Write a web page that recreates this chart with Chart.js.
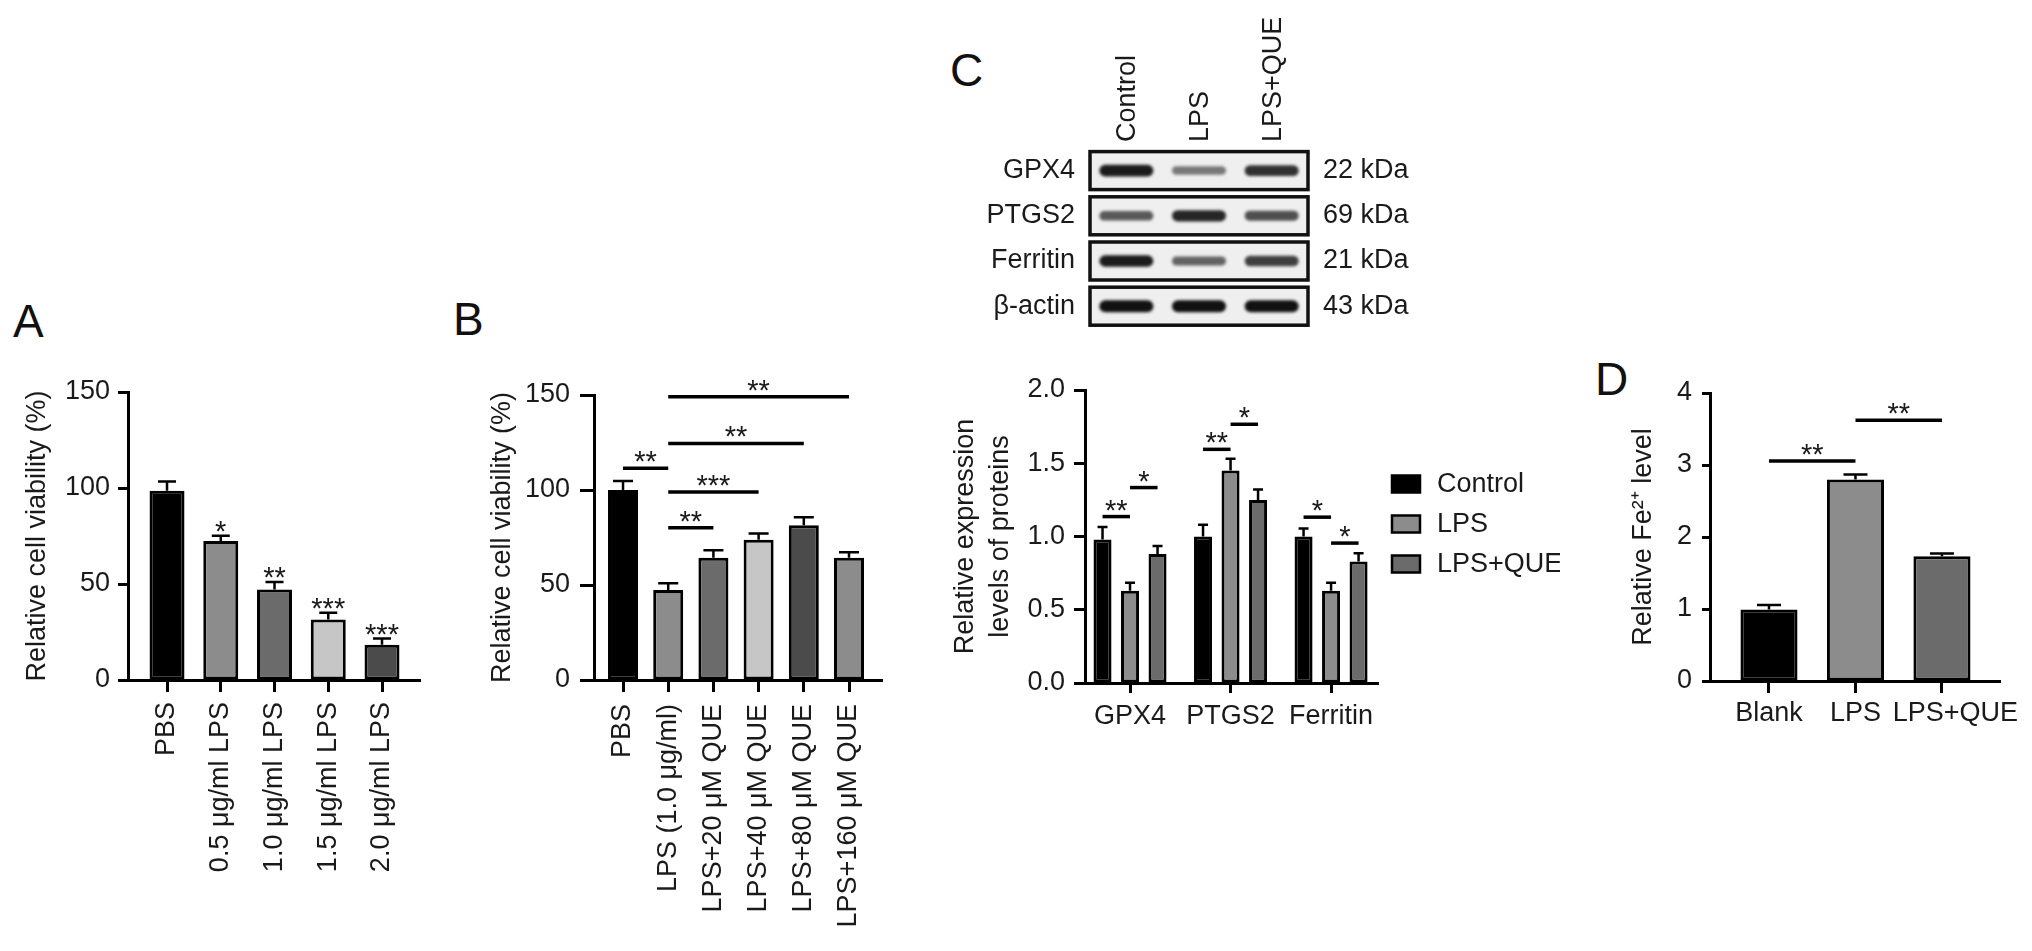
<!DOCTYPE html>
<html>
<head>
<meta charset="utf-8">
<script src="https://cdn.jsdelivr.net/npm/chart.js@4.4.0/dist/chart.umd.min.js"></script>
<style>
  body { margin: 0; background: #fff; }
  #fig { position: relative; width: 2032px; height: 951px; overflow: hidden; font-family: 'Liberation Sans', Arial, sans-serif; }
  #fig canvas { position: absolute; }
  .tag { position: absolute; font-size: 46px; line-height: 46px; color: #111; }
</style>
</head>
<body>
<div id="fig">
  <div class="tag" style="left:13px; top:298px">A</div>
  <div class="tag" style="left:453px; top:296px">B</div>
  <div class="tag" style="left:950px; top:47px">C</div>
  <div class="tag" style="left:1595px; top:356px">D</div>
  <canvas id="chartA" width="440" height="651" style="left:0px; top:300px"></canvas>
  <canvas id="chartB" width="460" height="651" style="left:440px; top:300px"></canvas>
  <canvas id="blot" width="500" height="360" style="left:920px; top:0px"></canvas>
  <canvas id="chartC" width="640" height="591" style="left:920px; top:360px"></canvas>
  <canvas id="chartD" width="432" height="651" style="left:1600px; top:300px"></canvas>
</div>
<script>
// A - viability vs LPS dose
const aLabels = ['PBS', '0.5 μg/ml LPS', '1.0 μg/ml LPS', '1.5 μg/ml LPS', '2.0 μg/ml LPS'];
const aMeans = [98.6, 72.4, 47.2, 31.5, 18.3];
const aErrors = [4.8, 2.7, 3.8, 3.5, 3.3];
const aStars = ['', '*', '**', '***', '***'];

// B - viability with QUE
const bLabels = ['PBS', 'LPS (1.0 μg/ml)', 'LPS+20 μM QUE', 'LPS+40 μM QUE', 'LPS+80 μM QUE', 'LPS+160 μM QUE'];
const bMeans = [100.0, 47.4, 64.4, 73.8, 81.4, 64.4];
const bErrors = [4.8, 3.5, 3.9, 3.3, 4.2, 2.8];
const bPairs = [[0, 1], [1, 2], [1, 3], [1, 4], [1, 5]];
const bPairLevels = [111.4, 80.1, 98.9, 124.5, 149.1];
const bPairStars = ['**', '**', '***', '**', '**'];

// C - western blot
const blotLanes = ['Control', 'LPS', 'LPS+QUE'];
const blotProteins = ['GPX4', 'PTGS2', 'Ferritin', 'β-actin'];
const blotSizes = ['22 kDa', '69 kDa', '21 kDa', '43 kDa'];
const gpx4Bands = [0.95, 0.5, 0.85];
const ptgs2Bands = [0.65, 0.9, 0.7];
const ferritinBands = [0.95, 0.6, 0.78];
const actinBands = [1, 1, 1];

// C - quantification
const cGroups = ['GPX4', 'PTGS2', 'Ferritin'];
const cSeries = ['Control', 'LPS', 'LPS+QUE'];
const cControl = [0.98, 1.0, 1.0];
const cControlErr = [0.085, 0.08, 0.055];
const cLps = [0.63, 1.45, 0.63];
const cLpsErr = [0.055, 0.08, 0.055];
const cQue = [0.88, 1.25, 0.83];
const cQueErr = [0.055, 0.07, 0.055];
const cPairGroups = [0, 0, 1, 1, 2, 2];
const cPairFrom = [0, 1, 0, 1, 0, 1];
const cPairTo = [1, 2, 1, 2, 1, 2];
const cPairLevels = [1.136, 1.334, 1.595, 1.766, 1.132, 0.955];
const cPairStars = ['**', '*', '**', '*', '*', '*'];

// D - Fe2+
const dLabels = ['Blank', 'LPS', 'LPS+QUE'];
const dMeans = [0.994, 2.80, 1.734];
const dErrors = [0.06, 0.067, 0.037];
const dPairs = [[0, 1], [1, 2]];
const dPairLevels = [3.057, 3.62];
const dPairStars = ['**', '**'];

const FONT = "'Liberation Sans', Arial, sans-serif";
Chart.defaults.font.family = FONT;
Chart.defaults.font.size = 27;
Chart.defaults.color = '#1a1a1a';

const errorBarPlugin = {
    id: 'errorBars',
    afterDatasetsDraw(chart) {
        const ctx = chart.ctx;
        const yScale = chart.scales.y;
        chart.data.datasets.forEach((ds, di) => {
            if (!ds.errors) return;
            const meta = chart.getDatasetMeta(di);
            meta.data.forEach((bar, i) => {
                const top = yScale.getPixelForValue(ds.data[i].y + ds.errors[i]);
                const half = ds.capWidth / 2;
                ctx.save();
                ctx.strokeStyle = '#000';
                ctx.lineWidth = 2.5;
                ctx.beginPath();
                ctx.moveTo(bar.x, bar.y);
                ctx.lineTo(bar.x, top);
                ctx.moveTo(bar.x - half, top);
                ctx.lineTo(bar.x + half, top);
                ctx.stroke();
                if (ds.stars && ds.stars[i]) {
                    ctx.fillStyle = '#1a1a1a';
                    ctx.font = '29px ' + FONT;
                    ctx.textAlign = 'center';
                    ctx.textBaseline = 'alphabetic';
                    ctx.fillText(ds.stars[i], bar.x, top + 5);
                }
                ctx.restore();
            });
        });
    }
};

function sigPlugin(pairs) {
    return {
        id: 'sig',
        afterDraw(chart) {
            const ctx = chart.ctx;
            const yScale = chart.scales.y;
            ctx.save();
            ctx.strokeStyle = '#000';
            ctx.lineWidth = 3.5;
            ctx.fillStyle = '#1a1a1a';
            ctx.font = '29px ' + FONT;
            ctx.textAlign = 'center';
            ctx.textBaseline = 'alphabetic';
            pairs.forEach(p => {
                const x1 = chart.getDatasetMeta(p.a[0]).data[p.a[1]].x;
                const x2 = chart.getDatasetMeta(p.b[0]).data[p.b[1]].x;
                const py = yScale.getPixelForValue(p.level);
                ctx.beginPath();
                ctx.moveTo(x1, py);
                ctx.lineTo(x2, py);
                ctx.stroke();
                ctx.fillText(p.text, (x1 + x2) / 2, py + 3);
            });
            ctx.restore();
        }
    };
}

const sideLegend = {
    id: 'sideLegend',
    afterDraw(chart) {
        const ctx = chart.ctx;
        const ca = chart.chartArea;
        ctx.save();
        chart.data.datasets.forEach((ds, i) => {
            const cy = ca.top + 94 + i * 40;
            const x0 = ca.right + 14;
            ctx.fillStyle = ds.backgroundColor;
            ctx.fillRect(x0, cy - 8.5, 28, 17);
            ctx.strokeStyle = '#000';
            ctx.lineWidth = 2.5;
            ctx.strokeRect(x0, cy - 8.5, 28, 17);
            ctx.fillStyle = '#1a1a1a';
            ctx.font = '27px ' + FONT;
            ctx.textBaseline = 'middle';
            ctx.fillText(ds.label, x0 + 45, cy + 1);
        });
        ctx.restore();
    }
};

function valueAxis(o) {
    return {
        min: 0,
        max: o.max,
        afterFit: s => { s.width = o.width; },
        border: { display: true, color: '#000', width: 3 },
        grid: { display: true, drawOnChartArea: false, drawTicks: true, tickLength: o.tickLength, tickWidth: 3, tickColor: '#000' },
        ticks: { stepSize: o.step, padding: o.pad, callback: o.fmt || (v => v) },
        title: { display: true, text: o.title, font: { size: 27, lineHeight: o.lineHeight || 1.2 }, padding: { top: o.titlePad, bottom: 0 } }
    };
}

function indexAxis(o) {
    return {
        type: 'linear',
        min: o.min,
        max: o.max,
        offset: false,
        afterFit: s => { s.height = o.height; },
        afterBuildTicks: s => { s.ticks = o.labels.map((_, i) => ({ value: i })); },
        border: { display: true, color: '#000', width: 3 },
        grid: { display: true, offset: false, drawOnChartArea: false, drawTicks: true, tickLength: o.tickLength, tickWidth: 3, tickColor: '#000' },
        ticks: { autoSkip: false, minRotation: o.rot, maxRotation: o.rot, padding: o.pad, callback: o.format || (v => o.labels[v]) }
    };
}

function baseOptions(padding, x, y) {
    return {
        responsive: false,
        animation: false,
        devicePixelRatio: 1,
        events: [],
        layout: { padding: Object.assign({ left: 0, right: 0, top: 0, bottom: 0 }, padding) },
        plugins: { legend: { display: false }, tooltip: { enabled: false } },
        scales: { x: x, y: y }
    };
}

function points(values) {
    return values.map((v, i) => ({ x: i, y: v }));
}

// Panel A
new Chart(document.getElementById('chartA'), {
    type: 'bar',
    data: {
        datasets: [{
            data: points(aMeans), errors: aErrors, stars: aStars, capWidth: 18,
            backgroundColor: ['#000000', '#8c8c8c', '#6b6b6b', '#c6c6c6', '#4b4b4b'],
            borderColor: '#000', borderWidth: 3, borderSkipped: false,
            categoryPercentage: 1, barPercentage: 0.651
        }]
    },
    options: baseOptions({ top: 92, right: 20 },
        indexAxis({ labels: aLabels, min: -0.726, max: 4.707, height: 271, tickLength: 12, pad: 10, rot: 90 }),
        valueAxis({ max: 150, step: 50, width: 128, tickLength: 10, pad: 8, title: 'Relative cell viability (%)', titlePad: 21 })),
    plugins: [errorBarPlugin]
});

// Panel B
new Chart(document.getElementById('chartB'), {
    type: 'bar',
    data: {
        datasets: [{
            data: points(bMeans), errors: bErrors, capWidth: 20,
            backgroundColor: ['#000000', '#8c8c8c', '#6b6b6b', '#c6c6c6', '#4b4b4b', '#8c8c8c'],
            borderColor: '#000', borderWidth: 3, borderSkipped: false,
            categoryPercentage: 1, barPercentage: 0.664
        }]
    },
    options: baseOptions({ top: 95, right: 18 },
        indexAxis({ labels: bLabels, min: -0.642, max: 5.73, height: 271, tickLength: 12, pad: 12, rot: 90 }),
        valueAxis({ max: 150, step: 50, width: 154, tickLength: 14, pad: 10, title: 'Relative cell viability (%)', titlePad: 46 })),
    plugins: [errorBarPlugin, sigPlugin(bPairs.map((pr, k) => ({
        a: [0, pr[0]], b: [0, pr[1]], level: bPairLevels[k], text: bPairStars[k]
    })))]
});

// Panel C - blot
const blotBands = [gpx4Bands, ptgs2Bands, ferritinBands, actinBands];
const blotPoints = [];
blotBands.forEach((row, r) => {
    row.forEach((v, l) => blotPoints.push({ x: blotLanes[l], y: blotProteins[r], v: v }));
});

const blotPlugin = {
    id: 'blot',
    beforeDatasetsDraw(chart) {
        const ctx = chart.ctx;
        const ca = chart.chartArea;
        const yScale = chart.scales.y;
        ctx.save();
        blotProteins.forEach((_, i) => {
            const cy = yScale.getPixelForValue(i);
            ctx.fillStyle = '#efefef';
            ctx.fillRect(ca.left, cy - 19, ca.right - ca.left, 38);
        });
        ctx.restore();
    },
    afterDatasetsDraw(chart) {
        const ctx = chart.ctx;
        const ca = chart.chartArea;
        const yScale = chart.scales.y;
        const meta = chart.getDatasetMeta(0);
        const pts = chart.data.datasets[0].data;
        ctx.save();
        ctx.filter = 'blur(1.6px)';
        meta.data.forEach((pt, i) => {
            const v = pts[i].v;
            const g = Math.round(222 - 205 * v);
            const h = 5 + 7 * v;
            ctx.fillStyle = 'rgb(' + g + ',' + g + ',' + g + ')';
            ctx.beginPath();
            ctx.roundRect(pt.x - 27, pt.y - h / 2, 54, h, h / 2);
            ctx.fill();
        });
        ctx.filter = 'none';
        ctx.strokeStyle = '#111';
        ctx.lineWidth = 3.5;
        blotProteins.forEach((_, i) => {
            const cy = yScale.getPixelForValue(i);
            ctx.strokeRect(ca.left, cy - 19, ca.right - ca.left, 38);
        });
        ctx.restore();
    }
};

new Chart(document.getElementById('blot'), {
    type: 'scatter',
    data: { datasets: [{ data: blotPoints, pointRadius: 0 }] },
    options: {
        responsive: false,
        animation: false,
        devicePixelRatio: 1,
        events: [],
        layout: { padding: { left: 0, right: 0, top: 0, bottom: 13 } },
        plugins: { legend: { display: false }, tooltip: { enabled: false } },
        scales: {
            x: {
                type: 'category', labels: blotLanes, position: 'top', offset: true,
                afterFit: s => { s.height = 148; },
                grid: { display: false, drawTicks: false }, border: { display: false },
                ticks: { minRotation: 90, maxRotation: 90, padding: 6, labelOffset: 34, autoSkip: false }
            },
            y: {
                type: 'category', labels: blotProteins, position: 'left', offset: true,
                afterFit: s => { s.width = 170; },
                grid: { display: false, drawTicks: false }, border: { display: false },
                ticks: { padding: 15, autoSkip: false }
            },
            y2: {
                type: 'category', labels: blotSizes, position: 'right', offset: true,
                afterFit: s => { s.width = 112; },
                grid: { display: false, drawTicks: false }, border: { display: false },
                ticks: { padding: 15, autoSkip: false }
            }
        }
    },
    plugins: [blotPlugin]
});

// Panel C - quantification
const cColors = ['#000000', '#8c8c8c', '#6b6b6b'];
const cValues = [cControl, cLps, cQue];
const cErrors = [cControlErr, cLpsErr, cQueErr];
new Chart(document.getElementById('chartC'), {
    type: 'bar',
    data: {
        datasets: cSeries.map((name, s) => ({
            label: name, data: points(cValues[s]), errors: cErrors[s], capWidth: 10,
            backgroundColor: cColors[s], borderColor: '#000', borderWidth: 3, borderSkipped: false,
            categoryPercentage: 0.821, barPercentage: 0.655
        }))
    },
    options: baseOptions({ top: 30, right: 182 },
        indexAxis({ labels: cGroups, min: -0.448, max: 2.467, height: 268, tickLength: 10, pad: 7, rot: 0 }),
        valueAxis({ max: 2, step: 0.5, width: 165, tickLength: 11, pad: 9, fmt: v => v.toFixed(1),
            title: ['Relative expression', 'levels of proteins'], lineHeight: 1.3, titlePad: 27.5 })),
    plugins: [errorBarPlugin, sideLegend, sigPlugin(cPairGroups.map((g, k) => ({
        a: [cPairFrom[k], g], b: [cPairTo[k], g], level: cPairLevels[k], text: cPairStars[k]
    })))]
});

// Panel D (last label sits a little right of its tick, as in the figure)
new Chart(document.getElementById('chartD'), {
    type: 'bar',
    data: {
        datasets: [{
            data: points(dMeans), errors: dErrors, capWidth: 24,
            backgroundColor: ['#000000', '#8c8c8c', '#6b6b6b'],
            borderColor: '#000', borderWidth: 3, borderSkipped: false,
            categoryPercentage: 1, barPercentage: 0.66
        }]
    },
    options: baseOptions({ top: 93, right: 32 },
        indexAxis({ labels: dLabels, min: -0.682, max: 2.671, height: 270, tickLength: 12, pad: 4, rot: 0,
            format: v => (v === dLabels.length - 1 ? '\u2003' : '') + dLabels[v] }),
        valueAxis({ max: 4, step: 1, width: 110, tickLength: 8, pad: 10, title: 'Relative Fe²⁺ level', titlePad: 27 })),
    plugins: [errorBarPlugin, sigPlugin(dPairs.map((pr, k) => ({
        a: [0, pr[0]], b: [0, pr[1]], level: dPairLevels[k], text: dPairStars[k]
    })))]
});
</script>
</body>
</html>
